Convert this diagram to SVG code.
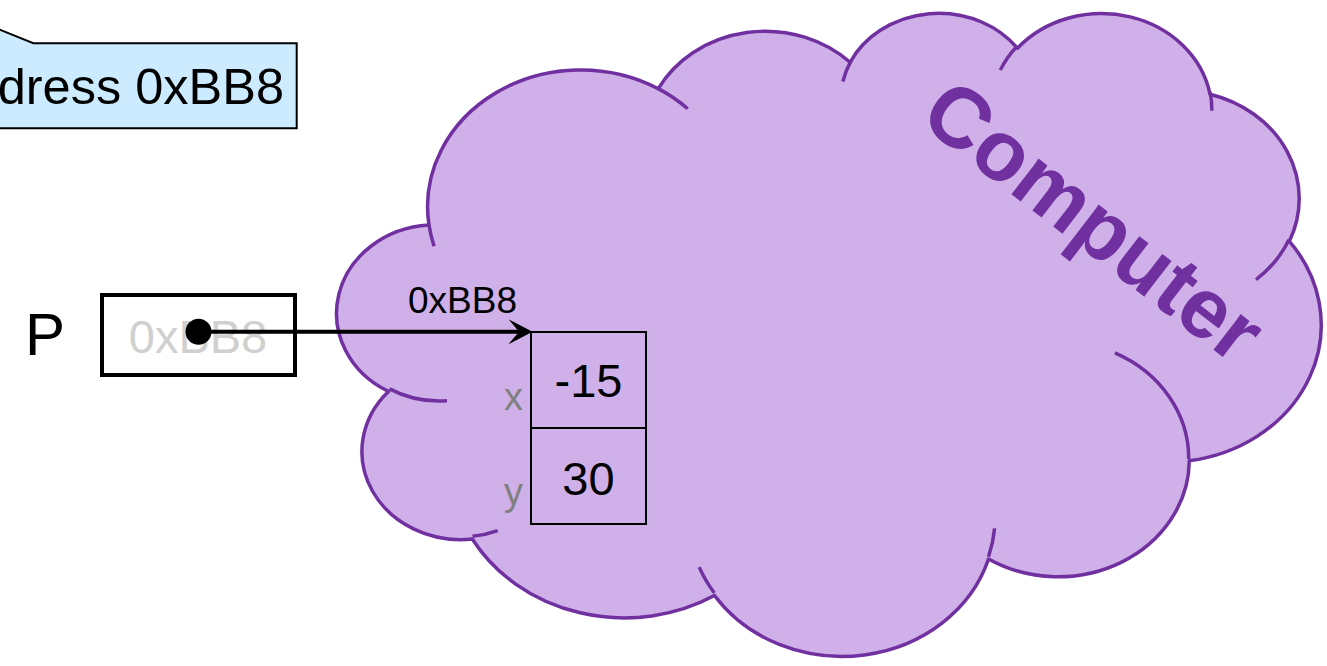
<svg xmlns="http://www.w3.org/2000/svg" width="1327" height="666" viewBox="0 0 1327 666">
<style>
.t{font-family:"Liberation Sans",Arial,Helvetica,sans-serif}
.cl{fill:none;stroke:#7030A0;stroke-width:3.5}
</style>
<defs>
<marker id="arr" markerUnits="userSpaceOnUse" markerWidth="24" markerHeight="25" viewBox="0 0 24 25" refX="10.5" refY="12.5" orient="auto">
<path d="M0,0 L24,12.5 L0,25 L10.5,12.5 Z" fill="#000"/>
</marker>
</defs>
<rect width="1327" height="666" fill="#fff"/>

<g id="callout">
<path d="M296.7,43.3 L33.3,43.3 L-40,13.5 L-60,43.3 L-60,128.3 L296.7,128.3 Z" fill="#CCEBFF" stroke="#000" stroke-width="2"/>
<text class="t" x="284" y="104" font-size="50.5" text-anchor="end" fill="#000">dress 0xBB8</text>
</g>

<g id="computer">
<path d="M429,225.1 A153.2,136.7 0 0 1 658.3,88.7 A121,108.1 0 0 1 850.1,62.3 A99,88.5 0 0 1 1017.5,48.2 A110.2,98.1 0 0 1 1210,94.2 A121,108.2 0 0 1 1289.4,241.3 A153.7,137.2 0 0 1 1189.3,460.7 A131.3,117.1 0 0 1 988.5,559 A153.2,137.1 0 0 1 714.5,595.5 A175.2,156.9 0 0 1 472.3,539 A98.9,88.1 0 0 1 388.5,391.4 A98.6,88.5 0 0 1 429,225.1 Z" fill="#D0B0E8" stroke="#7030A0" stroke-width="3.5" stroke-linejoin="round"/>
<path class="cl" d="M447,400.8 A98.6,88.5 0 0 1 389.5,388.9 M497.7,530.6 A98.9,88.1 0 0 1 472.5,536.3 M714.4,593 A153.2,137.1 0 0 1 699.2,567.1 M994.6,528.4 A153.2,137.1 0 0 1 988.5,556.8 M1114.9,352.9 A131.3,117.1 0 0 1 1188.7,459 M1288.9,239.8 A121,108.2 0 0 1 1256,279.6 M1210.1,92 A110.2,98.1 0 0 1 1211.8,110.8 M1000.3,70.1 A110.2,98.1 0 0 1 1017.1,46.1 M842.9,81.5 A99,88.5 0 0 1 851,60.9 M658.2,88.6 A153.2,136.7 0 0 1 687.7,108.7 M434.1,246.2 A153.2,136.7 0 0 1 429,225.1"/>
<text class="t" transform="translate(1076,244) rotate(37.6)" x="0" y="0" font-size="85" font-weight="bold" text-anchor="middle" fill="#7030A0">Computer</text>
</g>

<g id="pointer-p">
<text class="t" x="25" y="355" font-size="60" fill="#000">P</text>
<rect x="102" y="295" width="193" height="80" fill="#fff" stroke="#000" stroke-width="4"/>
<text class="t" x="198" y="353" font-size="47" text-anchor="middle" fill="#D0D0D0">0xBB8</text>
</g>

<g id="struct">
<rect x="531" y="332" width="115" height="192" fill="none" stroke="#000" stroke-width="2"/>
<line x1="531" y1="428" x2="646" y2="428" stroke="#000" stroke-width="2"/>
<text class="t" x="588.5" y="397" font-size="47" text-anchor="middle" fill="#000">-15</text>
<text class="t" x="588.5" y="495" font-size="47" text-anchor="middle" fill="#000">30</text>
<text class="t" x="523" y="410" font-size="38" text-anchor="end" fill="#808080">x</text>
<text class="t" x="523" y="505" font-size="38" text-anchor="end" fill="#808080">y</text>
</g>

<g id="connectors">
<circle cx="198.5" cy="331.7" r="13" fill="#000"/>
<line x1="198.5" y1="331.7" x2="519" y2="331.7" stroke="#000" stroke-width="4" marker-end="url(#arr)"/>
<text class="t" x="462.5" y="313" font-size="37" text-anchor="middle" fill="#000">0xBB8</text>
</g>
</svg>
